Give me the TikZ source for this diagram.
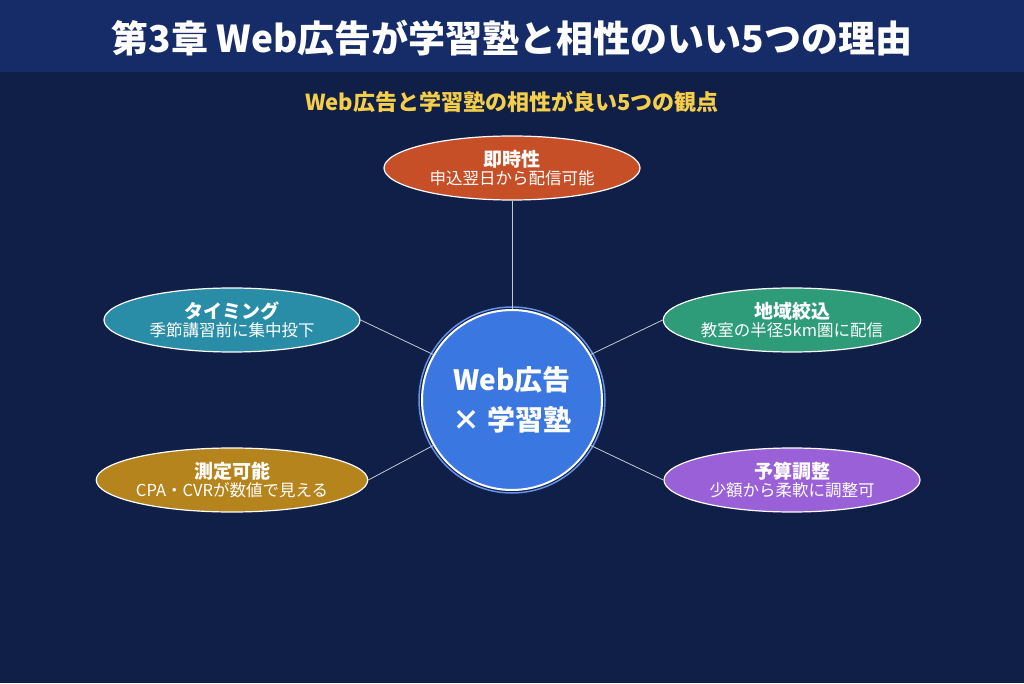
\documentclass[tikz,border=0pt]{standalone}
\usepackage{fontspec}
\setmainfont{Noto Sans CJK JP}
\usetikzlibrary{positioning,shapes.geometric}
\definecolor{bgdark}{HTML}{101F48}
\definecolor{barblue}{HTML}{162C68}
\definecolor{subyellow}{HTML}{F5CE4A}
\definecolor{hubblue}{HTML}{3B77E0}
\definecolor{cred}{HTML}{C64F28}
\definecolor{cteal}{HTML}{2A8DA8}
\definecolor{cgreen}{HTML}{2E9C78}
\definecolor{cgold}{HTML}{B5841C}
\definecolor{cpurple}{HTML}{9960D8}
\tikzset{
  point/.style={ellipse, draw=white, line width=1.2pt, minimum width=256pt, minimum height=64pt, inner sep=0pt, align=center, text=white},
  link/.style={draw=white!75!bgdark, line width=0.8pt}
}
\newcommand{\pt}[2]{{\fontsize{19}{22}\selectfont\bfseries #1}\\[1pt]{\fontsize{16.5}{19}\selectfont #2}}
\begin{document}
\begin{tikzpicture}[x=1pt,y=1pt]
\useasboundingbox (0,0) rectangle (1024,683);
\fill[bgdark] (0,0) rectangle (1024,683);
\fill[barblue] (0,611) rectangle (1024,683);
\node[text=white] (title) at (512,645) {\fontsize{37}{42}\selectfont\bfseries 第3章 Web広告が学習塾と相性のいい5つの理由};
\node[text=subyellow] (subtitle) at (512,581) {\fontsize{22}{26}\selectfont\bfseries Web広告と学習塾の相性が良い5つの観点};
% hub
\node[circle, fill=hubblue, draw=white, line width=2pt, minimum size=180pt, align=center, text=white,
  font=\fontsize{28}{40}\selectfont\bfseries] (hub) at (512,283)
  {Web広告\\ × 学習塾};
\draw[hubblue!80!white, line width=1.5pt] (hub) circle (93);
% points
\node[point, fill=cred] (speed) at (512,515) {\pt{即時性}{申込翌日から配信可能}};
\node[point, fill=cteal] (timing) at (232,363) {\pt{タイミング}{季節講習前に集中投下}};
\node[point, fill=cgreen] (area) at (792,363) {\pt{地域絞込}{教室の半径5km圏に配信}};
\node[point, fill=cgold] (measure) at (232,203) {\pt{測定可能}{CPA・CVRが数値で見える}};
\node[point, fill=cpurple] (budget) at (792,203) {\pt{予算調整}{少額から柔軟に調整可}};
\draw[link] (hub.north) -- (speed.south);
\draw[link] (hub.150) -- (timing.east);
\draw[link] (hub.30) -- (area.west);
\draw[link] (hub.210) -- (measure.east);
\draw[link] (hub.330) -- (budget.west);
\end{tikzpicture}
\end{document}
